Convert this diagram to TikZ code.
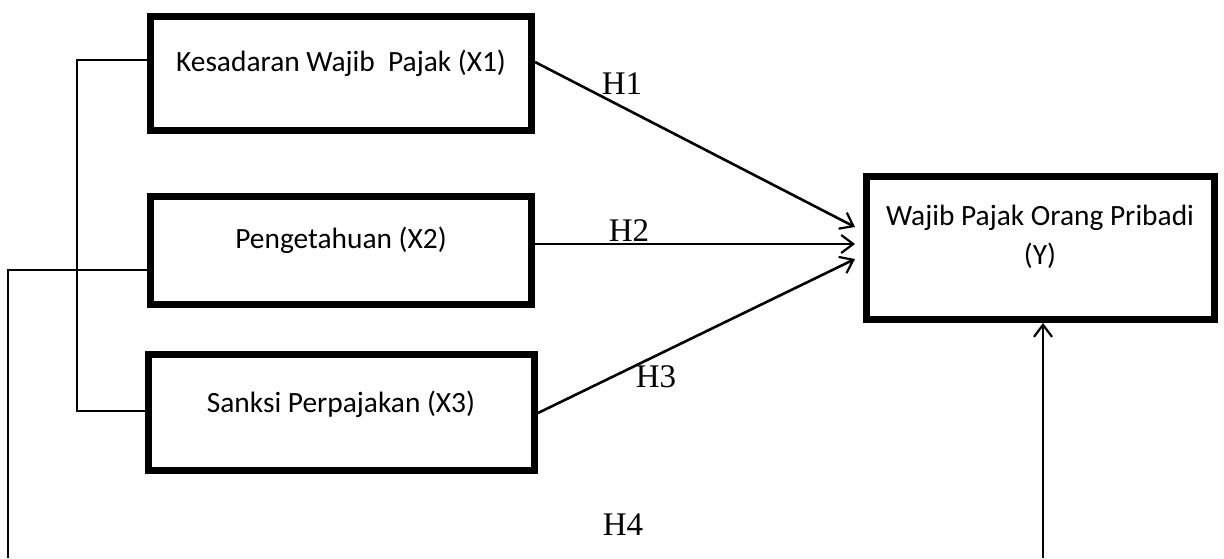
\documentclass[tikz,border=0pt]{standalone}
\usepackage{fontspec}
\setmainfont{Carlito}
\newfontfamily\hfont{Liberation Serif}
\usetikzlibrary{arrows.meta}

\tikzset{
  varbox/.style={draw, line width=3.3pt, inner sep=0pt},
  boxtext/.style={inner sep=0pt, anchor=base, font=\fontsize{14.7}{19.5}\selectfont},
  hlabel/.style={inner sep=0pt, anchor=base, font=\hfont\fontsize{16.5}{18}\selectfont},
  link/.style={line width=1pt},
  path/.style={line width=1.3pt, -{Straight Barb[length=6pt,width=9pt,line width=1.1pt]}},
}

\begin{document}
\begin{tikzpicture}[x=0.5pt,y=-0.5pt]
  \useasboundingbox (0,0) rectangle (1224,558);

  % independent variables
  \node[varbox, minimum width=190.7pt, minimum height=57.2pt] (x1) at (341,73.5) {};
  \node[varbox, minimum width=190.7pt, minimum height=54.2pt] (x2) at (341,250.5) {};
  \node[varbox, minimum width=193.2pt, minimum height=58.2pt] (x3) at (341.5,412.5) {};
  % dependent variable
  \node[varbox, minimum width=174.2pt, minimum height=71.7pt] (y) at (1040.5,248) {};

  \node[boxtext] (tx1) at (341,71) {Kesadaran Wajib\ \ Pajak (X1)};
  \node[boxtext] (tx2) at (341,248) {Pengetahuan (X2)};
  \node[boxtext] (tx3) at (341,412) {Sanksi Perpajakan (X3)};
  % base anchor of a two-line node sits on its last line
  \node[boxtext, align=center] (ty) at (1040,264) {Wajib Pajak Orang Pribadi\\(Y)};

  % bracket joining X1 and X3
  \coordinate (b1) at (77,60);
  \coordinate (b3) at (77,411);
  \draw[link] (x1.west |- b1) -- (b1) -- (b3) -- (x3.west |- b3);

  % outer path from X2 to Y
  \coordinate (o1) at (8,270);
  \coordinate (o2) at (8,558);
  \coordinate (o3) at (1043,558);
  \draw[link] (x2.west |- o1) -- (o1) -- (o2);
  \draw[path] (o3) -- (y.south -| o3);

  % hypothesis arrows
  \coordinate (e1) at (855,227);
  \coordinate (e2) at (855,244);
  \coordinate (e3) at (855,259);
  \coordinate (s1) at (0,62);
  \coordinate (s2) at (0,244);
  \coordinate (s3) at (0,413);
  \draw[path] (x1.east |- s1) -- (e1);
  \draw[path] (x2.east |- s2) -- (e2);
  \draw[path] (x3.east |- s3) -- (e3);

  \node[hlabel] (h1) at (622,94) {H1};
  \node[hlabel] (h2) at (629,241) {H2};
  \node[hlabel] (h3) at (656,387) {H3};
  \node[hlabel] (h4) at (623,535) {H4};
\end{tikzpicture}
\end{document}
